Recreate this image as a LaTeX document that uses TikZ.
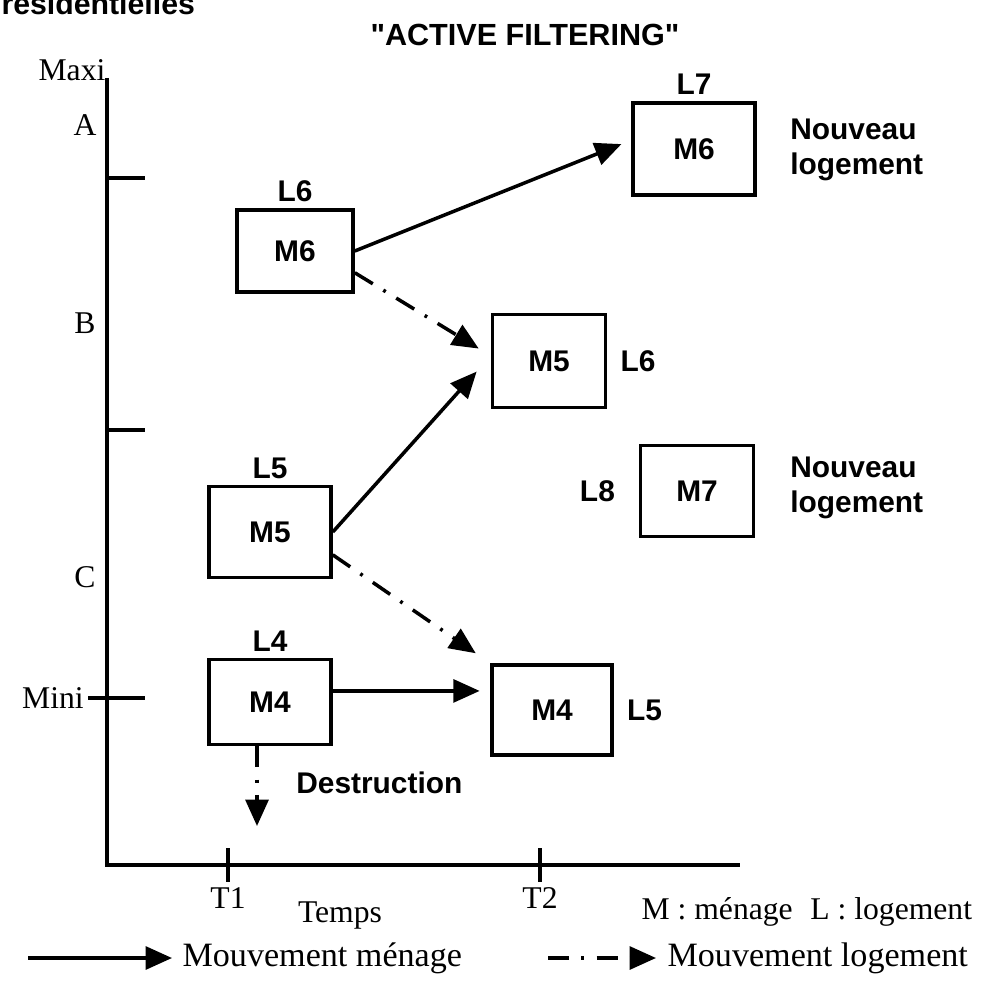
\documentclass[tikz,border=0pt]{standalone}
\usepackage{fontspec}
\setmainfont{Liberation Serif}
\newfontfamily\lsans{Liberation Sans}
\usetikzlibrary{arrows.meta,positioning}

\begin{document}
\begin{tikzpicture}[x=0.01cm, y=-0.01cm, line width=0.9pt, line cap=butt,
        >={Triangle[length=7.5pt,width=6.5pt]},
        box/.style={draw, line width=1pt, inner sep=0pt,
            font=\lsans\bfseries\fontsize{8.5}{10}\selectfont},
        tag/.style={font=\lsans\bfseries\fontsize{8.5}{10}\selectfont},
        ser/.style={font=\fontsize{9}{11}\selectfont},
        leg/.style={font=\fontsize{9.7}{11}\selectfont, inner sep=0pt},
        menage/.style={->, line width=1pt},
        logement/.style={->, line width=1pt,
            dash pattern=on 6pt off 3.5pt on 0.8pt off 3.5pt}]
        \useasboundingbox (0,0) rectangle (983,992);

        % ---- titles ----
        \node[anchor=base west, inner sep=0pt, font=\lsans\bfseries\fontsize{8.6}{10}\selectfont] (ttl) at (0,15) {résidentielles};
        \node[tag, font=\lsans\bfseries\fontsize{8.7}{11}\selectfont] (af) at (525,35) {"ACTIVE FILTERING"};

        % ---- axes ----
        \coordinate (o) at (107,865);
        \coordinate (ytop) at (107,78);
        \coordinate (xend) at (740,865);
        \draw (ytop) -- (o) -- (xend);
        \draw (107,178) -- (145,178);
        \draw (107,430) -- (145,430);
        \draw (88,698) -- (145,698);
        \draw (228,848) -- (228,882);
        \draw (540,848) -- (540,882);

        % ---- axis labels ----
        \node[ser] (maxi) at (72,70) {Maxi};
        \node[ser] (za) at (85,125) {A};
        \node[ser] (zb) at (85,323) {B};
        \node[ser] (zc) at (85,577) {C};
        \node[ser] (mini) at (53,698) {Mini};
        \node[ser] (t1) at (228,898) {T1};
        \node[ser] (t2) at (540,898) {T2};
        \node[ser] (temps) at (340,915) {Temps};
        \node[ser, anchor=west, inner sep=0pt] (key) at (640,912) {M : ménage\hspace{5pt}L : logement};

        % ---- dwellings at T1 ----
        \node[box, minimum width=1.16cm, minimum height=0.82cm] (m6a) at (295,251) {M6};
        \node[box, minimum width=1.22cm, minimum height=0.91cm] (m5a) at (270,532) {M5};
        \node[box, minimum width=1.22cm, minimum height=0.85cm] (m4a) at (270,702) {M4};
        \node[tag, above=-2pt of m6a] (l6a) {L6};
        \node[tag, above=-2pt of m5a] (l5a) {L5};
        \node[tag, above=-2pt of m4a] (l4a) {L4};

        % ---- dwellings at T2 ----
        \node[box, minimum width=1.22cm, minimum height=0.92cm] (m6b) at (694,149) {M6};
        \node[box, minimum width=1.13cm, minimum height=0.93cm] (m5b) at (549,361) {M5};
        \node[box, minimum width=1.13cm, minimum height=0.91cm] (m7) at (697,491) {M7};
        \node[box, minimum width=1.20cm, minimum height=0.90cm] (m4b) at (552,710) {M4};
        \node[tag, above=-2pt of m6b] (l7) {L7};
        \node[tag, right=0pt of m5b] (l6b) {L6};
        \node[tag, left=3pt of m7] (l8) {L8};
        \node[tag, right=0pt of m4b] (l5b) {L5};
        \node[tag, anchor=west, align=left] (nv1) at (777,150) {Nouveau\\logement};
        \node[tag, anchor=west, align=left] (nv2) at (777,488) {Nouveau\\logement};

        % ---- moves ----
        \draw[menage, shorten >=3pt] (m6a.east) -- (m6b.172);
        \draw[logement, shorten >=4pt] (m6a.-20) -- (m5b.175);
        \draw[menage, shorten >=6pt] (m5a.east) -- (m5b.175);
        \draw[logement, shorten >=5pt] (m5a.-20) -- (m4b.north west);
        \draw[menage, shorten >=3pt] (m4a.10) -- (m4a.10 -| m4b.west);

        % ---- demolition ----
        \coordinate (dst) at (257,826);
        \draw[logement] (m4a.south -| dst) -- (dst);
        \node[tag, anchor=west] (destr) at (283,783) {Destruction};

        % ---- legend ----
        \coordinate (lm1) at (28,958);
        \coordinate (lm2) at (172,958);
        \coordinate (ll1) at (548,958);
        \coordinate (ll2) at (656,958);
        \draw[menage] (lm1) -- (lm2);
        \draw[logement] (ll1) -- (ll2);
        \node[leg, anchor=west] (lgm) at (181,958) {Mouvement ménage};
        \node[leg, anchor=west] (lgl) at (666,958) {Mouvement logement};
\end{tikzpicture}
\end{document}
